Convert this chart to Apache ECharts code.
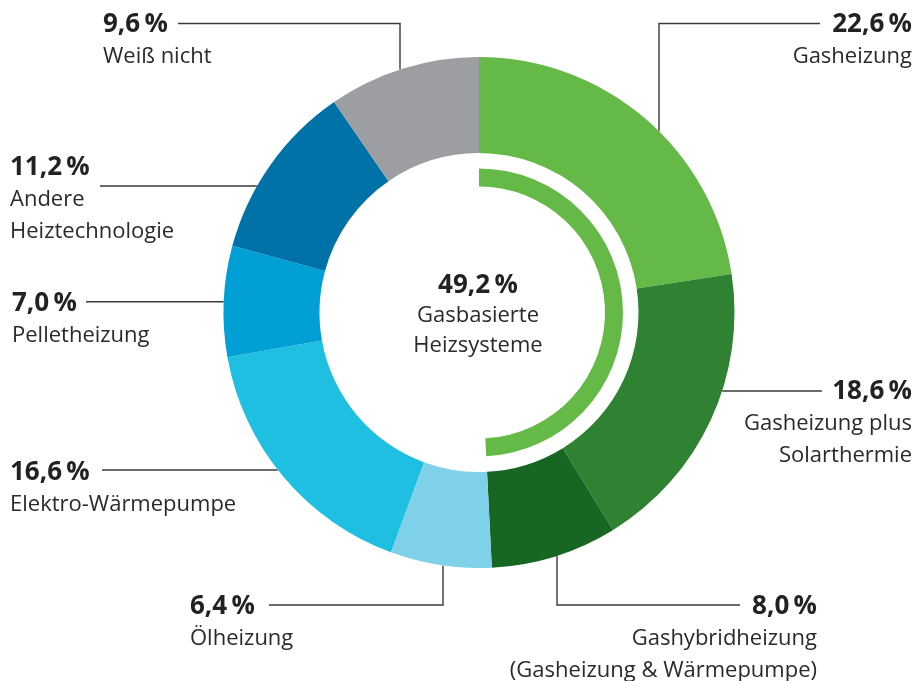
<!DOCTYPE html>
<html><head><meta charset="utf-8">
<script src="https://cdn.jsdelivr.net/npm/echarts@6/dist/echarts.min.js"></script>
<style>html,body{margin:0;padding:0;background:#fff}#c{width:915px;height:681px}</style>
</head><body><div id="c"></div>
<script>
// ---- data ----
const categories = ['Gasheizung', 'Gasheizung plus\nSolarthermie', 'Gashybridheizung\n(Gasheizung & Wärmepumpe)', 'Ölheizung', 'Elektro-Wärmepumpe', 'Pelletheizung', 'Andere\nHeiztechnologie', 'Weiß nicht'];
const values = [22.6, 18.6, 8.0, 6.4, 16.6, 7.0, 11.2, 9.6];
const colors = ['#65b946', '#2e8232', '#176722', '#7fd0e9', '#1ebfe0', '#009fd6', '#0072a8', '#9d9ea2'];
const gasTotal = 49.2;
const centerLines = ['Gasbasierte', 'Heizsysteme'];

// ---- layout ----
const FONT = '"Open Sans", "DejaVu Sans", sans-serif';
const CX = 479, CY = 312.5, R0 = 159.5, R1 = 255.5;
const labelPos = [
  {x: 912, y: 8.5, align: 'right', kind: 'v', lx: 659, ly: 23.5, ex: 820},
  {x: 912, y: 376, align: 'right', kind: 'h', ly: 391, ex: 822},
  {x: 817, y: 591, align: 'right', kind: 'v', lx: 557, ly: 605, ex: 740},
  {x: 190, y: 591, align: 'left', kind: 'v', lx: 443, ly: 605, ex: 269},
  {x: 10, y: 457, align: 'left', kind: 'h', ly: 470, ex: 102},
  {x: 12, y: 288, align: 'left', kind: 'h', ly: 301.7, ex: 86},
  {x: 10, y: 152, align: 'left', kind: 'h', ly: 186, ex: 100},
  {x: 103, y: 9, align: 'left', kind: 'v', lx: 400, ly: 23.5, ex: 178}
];

const fmt = v => v.toFixed(1).replace('.', ',') + '\u2009%';
function richFor(align) {
  return {
    p: {fontFamily: FONT, fontWeight: 'bold', fontSize: 26, lineHeight: 32, color: '#222', align: align},
    n: {fontFamily: FONT, fontSize: 22, lineHeight: 32, color: '#2a2a2a', align: align}
  };
}
function linePoints(L) {
  if (L.kind === 'v') {
    const d = Math.sqrt(R1 * R1 - (L.lx - CX) * (L.lx - CX));
    const cyEdge = L.ly < CY ? CY - d : CY + d;
    return [[L.lx, cyEdge], [L.lx, L.ly], [L.ex, L.ly]];
  }
  const d = Math.sqrt(R1 * R1 - (L.ly - CY) * (L.ly - CY));
  const cxEdge = L.ex > CX ? CX + d : CX - d;
  return [[cxEdge, L.ly], [(cxEdge + L.ex) / 2, L.ly], [L.ex, L.ly]];
}

const data = categories.map((name, i) => ({
  name: name, value: values[i],
  itemStyle: {color: colors[i]},
  label: {rich: richFor(labelPos[i].align)}
}));

const chart = echarts.init(document.getElementById('c'), null, {renderer: 'canvas'});
chart.setOption({
  animation: false,
  backgroundColor: '#fff',
  series: [{
    type: 'pie',
    center: [CX, CY],
    radius: [R0, R1],
    startAngle: 90,
    clockwise: true,
    avoidLabelOverlap: false,
    silent: true,
    itemStyle: {borderWidth: 0},
    label: {
      show: true, position: 'outside',
      formatter: p => '{p|' + fmt(p.value) + '}\n' + p.name.split('\n').map(s => '{n|' + s + '}').join('\n')
    },
    labelLine: {show: true, length: 10, length2: 10, smooth: false, lineStyle: {color: '#3a3a3a', width: 1.4}},
    labelLayout: function (params) {
      const L = labelPos[params.dataIndex];
      return {x: L.x, y: L.y, align: L.align, verticalAlign: 'top', labelLinePoints: linePoints(L)};
    },
    emphasis: {disabled: true},
    data: data
  }, {
    type: 'pie',
    center: [CX, CY],
    radius: [126, 144],
    startAngle: 90,
    clockwise: true,
    silent: true,
    itemStyle: {borderWidth: 0},
    label: {show: false},
    labelLine: {show: false},
    emphasis: {disabled: true},
    data: [
      {name: 'Gasbasierte Heizsysteme', value: gasTotal, itemStyle: {color: '#65b946'}},
      {name: 'Rest', value: 100 - gasTotal, itemStyle: {color: 'rgba(0,0,0,0)'}}
    ]
  }],
  graphic: [
    {type: 'text', x: 478, y: 286, style: {text: fmt(gasTotal), font: 'bold 26px ' + FONT, fill: '#222', align: 'center', verticalAlign: 'middle', textAlign: 'center', textVerticalAlign: 'middle'}},
    {type: 'text', x: 478, y: 316, style: {text: centerLines[0], font: '22px ' + FONT, fill: '#2a2a2a', align: 'center', verticalAlign: 'middle', textAlign: 'center', textVerticalAlign: 'middle'}},
    {type: 'text', x: 478, y: 346, style: {text: centerLines[1], font: '22px ' + FONT, fill: '#2a2a2a', align: 'center', verticalAlign: 'middle', textAlign: 'center', textVerticalAlign: 'middle'}}
  ]
});
</script>
</body></html>
